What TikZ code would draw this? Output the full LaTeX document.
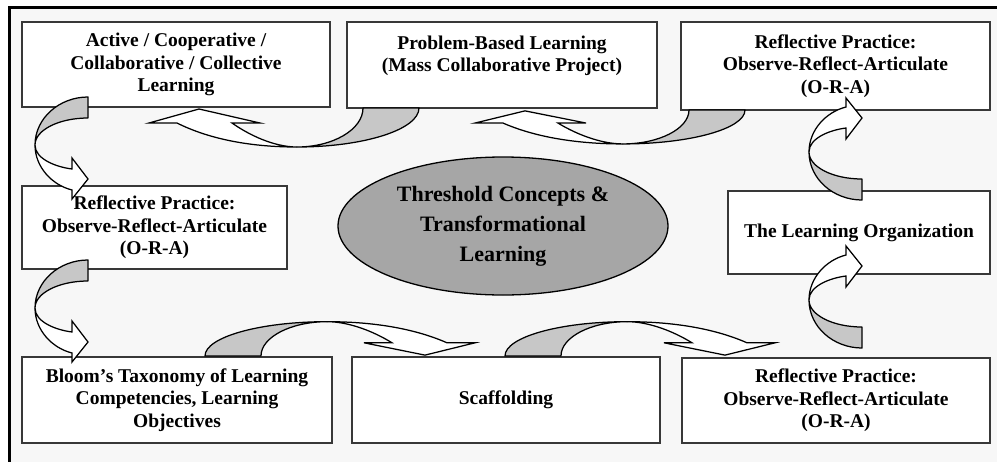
\documentclass[tikz,border=0pt]{standalone}
\usepackage{fontspec}
\setmainfont{Liberation Serif}
\usetikzlibrary{shapes.geometric}
\begin{document}
\begin{tikzpicture}[x=1pt,y=-1pt,
  box/.style={draw=black!78, line width=1.3pt, fill=white, inner sep=0pt, align=center,
    font=\fontsize{19.5}{22.4}\selectfont\bfseries},
  greyband/.style={draw=black, line width=1.25pt, fill=black!22, line join=round},
  whiteband/.style={draw=black, line width=1.25pt, fill=white, line join=miter},
  hcurve/.pic={
    \filldraw[greyband] (0,0) .. controls (0,21.5) and (-55,39) .. (-122,39)
      .. controls (-86,39) and (-56,21.5) .. (-56,0) -- cycle;
    \filldraw[whiteband] (-122,39) .. controls (-172,39) and (-212,30) .. (-242,15)
      -- (-270,15) -- (-220,1) -- (-159,15) -- (-187,15)
      .. controls (-170,27) and (-145,39) .. (-122,39) -- cycle;
  },
  vcurve/.pic={
    \filldraw[greyband] (0,0) .. controls (-29,0) and (-53,21.5) .. (-53,48)
      .. controls (-53,33) and (-29,21) .. (0,21) -- cycle;
    \filldraw[whiteband] (-53,48) .. controls (-53,70) and (-36,88) .. (-16,93)
      -- (-16,102) -- (0,82) -- (-16,61) -- (-16,72)
      .. controls (-32,70) and (-53,62) .. (-53,48) -- cycle;
  },
]
\useasboundingbox (0,0) rectangle (997,461);
\fill[white] (0,0) rectangle (997,461);
\fill[black!3] (9,7) rectangle (1000,470);
\draw[line width=3pt] (9.5,470) -- (9.5,7.5) -- (1000,7.5);

\node[box, minimum width=308pt, minimum height=85pt] (act) at (176,64.5)
  {Active / Cooperative /\\Collaborative / Collective\\Learning};
\node[box, minimum width=310pt, minimum height=86pt] (pbl) at (502,65)
  {Problem-Based Learning\\(Mass Collaborative Project)\\\mbox{}};
\node[box, minimum width=309pt, minimum height=88pt] (rtr) at (835.5,66)
  {Reflective Practice:\\Observe-Reflect-Articulate\\(O-R-A)};
\node[box, minimum width=265pt, minimum height=83pt] (rl) at (154.5,227.5)
  {Reflective Practice:\\Observe-Reflect-Articulate\\(O-R-A)};
\node[box, minimum width=262pt, minimum height=83pt] (lo) at (859,232.5)
  {The Learning Organization};
\node[box, minimum width=310pt, minimum height=86pt] (bloom) at (177,400)
  {Bloom's Taxonomy of Learning\\Competencies, Learning\\Objectives};
\node[box, minimum width=308pt, minimum height=86pt] (scaf) at (506,400)
  {Scaffolding};
\node[box, minimum width=308pt, minimum height=85pt] (rbr) at (836,400.5)
  {Reflective Practice:\\Observe-Reflect-Articulate\\(O-R-A)};

\node[draw=black, line width=1.3pt, fill=black!35, ellipse, inner sep=0pt,
  minimum width=330pt, minimum height=138pt, align=center,
  font=\fontsize{22}{30}\selectfont\bfseries] (tc) at (503,226)
  {Threshold Concepts \&\\Transformational\\Learning};

% curved block arrows
\pic at (419,108) {hcurve};
\pic[yscale=0.87] at (745,110) {hcurve};
\pic[xscale=-1, yscale=-0.88] at (205,356) {hcurve};
\pic[xscale=-1, yscale=-0.88] at (505,356) {hcurve};
\pic at (88,97) {vcurve};
\pic at (88,260) {vcurve};
\pic[yscale=-1] at (862,200) {vcurve};
\pic[yscale=-1] at (862,348) {vcurve};
\end{tikzpicture}
\end{document}
